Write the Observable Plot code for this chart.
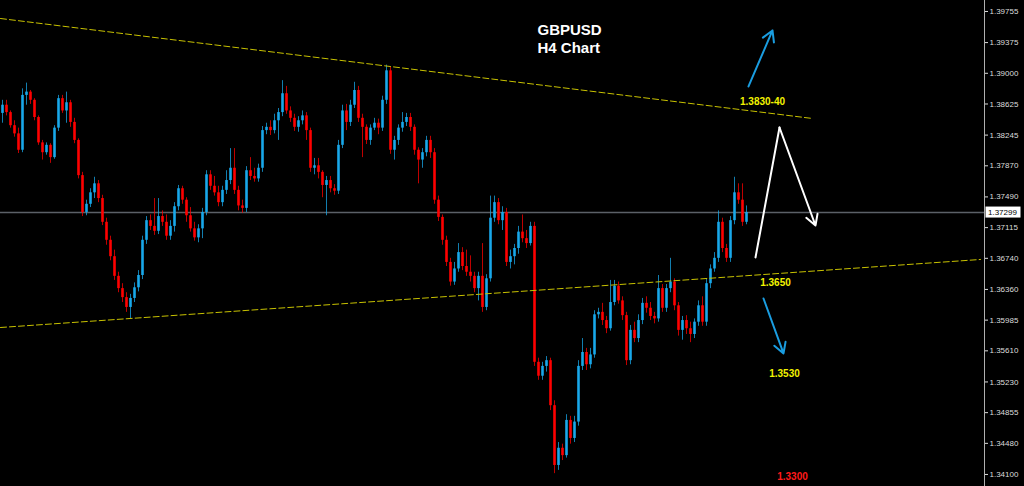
<!DOCTYPE html>
<html><head><meta charset="utf-8">
<script src="https://cdn.jsdelivr.net/npm/d3@7"></script>
<script src="https://cdn.jsdelivr.net/npm/@observablehq/plot@0.6"></script>
<style>
html,body{margin:0;padding:0;background:#000;overflow:hidden}
#chart{width:1024px;height:486px}
</style></head><body><div id="chart"></div>
<script>
// ---- data (GBPUSD H4 candles) ----
const firstOpen = 1.3851;
const closes = [1.3861,1.3852,1.3836,1.3826,1.3806,1.3873,1.3877,1.3867,1.3846,1.3815,
1.3803,1.3812,1.3797,1.3833,1.3869,1.3854,1.3864,1.3840,1.3818,1.3775,
1.3730,1.3740,1.3754,1.3765,1.3747,1.3718,1.3696,1.3676,1.3652,1.3637,
1.3626,1.3614,1.3625,1.3638,1.3653,1.3696,1.3720,1.3713,1.3707,1.3725,
1.3718,1.3701,1.3713,1.3737,1.3759,1.3745,1.3726,1.3710,1.3699,1.3710,
1.3730,1.3776,1.3762,1.3754,1.3742,1.3757,1.3769,1.3784,1.3757,1.3738,
1.3735,1.3781,1.3774,1.3771,1.3784,1.3830,1.3834,1.3830,1.3842,1.3852,
1.3875,1.3854,1.3845,1.3834,1.3842,1.3848,1.3830,1.3784,1.3787,1.3779,
1.3763,1.3769,1.3759,1.3756,1.3812,1.3854,1.3840,1.3861,1.3879,1.3845,
1.3834,1.3818,1.3833,1.3839,1.3833,1.3867,1.3903,1.3806,1.3818,1.3833,
1.3840,1.3846,1.3834,1.3806,1.3794,1.3803,1.3818,1.3803,1.3745,1.3724,
1.3696,1.3669,1.3645,1.3661,1.3681,1.3664,1.3657,1.3652,1.3637,1.3652,
1.3614,1.3649,1.3723,1.3742,1.3720,1.3730,1.3669,1.3676,1.3686,1.3706,
1.3698,1.3692,1.3713,1.3547,1.3530,1.3542,1.3549,1.3494,1.3421,1.3442,
1.3433,1.3476,1.3454,1.3474,1.3542,1.3559,1.3544,1.3556,1.3605,1.3608,
1.3598,1.3588,1.3620,1.3640,1.3622,1.3604,1.3549,1.3586,1.3576,1.3598,
1.3619,1.3613,1.3603,1.3600,1.3637,1.3613,1.3637,1.3645,1.3616,1.3586,
1.3598,1.3588,1.3581,1.3596,1.3616,1.3596,1.3643,1.3661,1.3674,1.3718,
1.3686,1.3674,1.3720,1.3754,1.3745,1.3718,1.37299];
const highs = [1.3867,1.3867,1.3854,1.3842,1.3833,1.3881,1.3888,1.3879,1.3869,1.3848,
1.3818,1.3815,1.3814,1.3836,1.3873,1.3873,1.3877,1.3867,1.3845,1.3820,
1.3779,1.3745,1.3759,1.3773,1.3769,1.3751,1.3723,1.3701,1.3684,1.3657,
1.3643,1.3632,1.3630,1.3644,1.3659,1.3701,1.3725,1.3727,1.3747,1.3747,
1.3732,1.3727,1.3720,1.3742,1.3763,1.3762,1.3748,1.3736,1.3718,1.3715,
1.3735,1.3781,1.3781,1.3774,1.3762,1.3762,1.3781,1.3808,1.3808,1.3762,
1.3745,1.3786,1.3797,1.3784,1.3789,1.3835,1.3839,1.3842,1.3850,1.3857,
1.3891,1.3884,1.3859,1.3850,1.3847,1.3854,1.3852,1.3833,1.3796,1.3796,
1.3781,1.3774,1.3774,1.3764,1.3818,1.3861,1.3862,1.3867,1.3889,1.3884,
1.3850,1.3837,1.3837,1.3845,1.3844,1.3872,1.3910,1.3907,1.3823,1.3837,
1.3852,1.3851,1.3851,1.3837,1.3809,1.3808,1.3823,1.3823,1.3808,1.3750,
1.3727,1.3701,1.3674,1.3669,1.3692,1.3687,1.3684,1.3677,1.3657,1.3657,
1.3692,1.3654,1.3750,1.3750,1.3747,1.3737,1.3735,1.3684,1.3691,1.3713,
1.3727,1.3708,1.3718,1.3718,1.3552,1.3547,1.3554,1.3552,1.3500,1.3449,
1.3447,1.3483,1.3481,1.3481,1.3549,1.3576,1.3564,1.3564,1.3610,1.3613,
1.3619,1.3603,1.3647,1.3647,1.3645,1.3627,1.3608,1.3592,1.3596,1.3605,
1.3625,1.3627,1.3620,1.3608,1.3653,1.3642,1.3642,1.3674,1.3649,1.3620,
1.3603,1.3604,1.3596,1.3600,1.3622,1.3627,1.3649,1.3666,1.3681,1.3732,
1.3723,1.3691,1.3725,1.3773,1.3765,1.3765,1.3738];
const lows = [1.3839,1.3848,1.3833,1.3822,1.3802,1.3803,1.3861,1.3862,1.3842,1.3812,
1.3794,1.3800,1.3790,1.3795,1.3829,1.3851,1.3839,1.3834,1.3814,1.3771,
1.3725,1.3726,1.3736,1.3747,1.3742,1.3714,1.3690,1.3671,1.3647,1.3632,
1.3620,1.3608,1.3600,1.3620,1.3633,1.3648,1.3691,1.3708,1.3702,1.3703,
1.3713,1.3696,1.3696,1.3706,1.3732,1.3740,1.3718,1.3706,1.3695,1.3693,
1.3698,1.3726,1.3757,1.3750,1.3737,1.3737,1.3752,1.3764,1.3752,1.3732,
1.3729,1.3730,1.3769,1.3767,1.3767,1.3779,1.3825,1.3824,1.3826,1.3818,
1.3847,1.3850,1.3840,1.3829,1.3828,1.3837,1.3818,1.3779,1.3776,1.3771,
1.3748,1.3726,1.3754,1.3751,1.3752,1.3808,1.3830,1.3835,1.3857,1.3840,
1.3797,1.3813,1.3812,1.3830,1.3825,1.3829,1.3862,1.3801,1.3794,1.3812,
1.3828,1.3835,1.3829,1.3800,1.3765,1.3784,1.3798,1.3796,1.3740,1.3719,
1.3690,1.3664,1.3640,1.3641,1.3657,1.3659,1.3652,1.3645,1.3632,1.3622,
1.3608,1.3610,1.3645,1.3718,1.3715,1.3708,1.3664,1.3661,1.3666,1.3679,
1.3693,1.3686,1.3689,1.3542,1.3525,1.3525,1.3535,1.3488,1.3411,1.3415,
1.3427,1.3430,1.3447,1.3449,1.3469,1.3537,1.3537,1.3539,1.3552,1.3600,
1.3592,1.3582,1.3585,1.3616,1.3618,1.3598,1.3543,1.3544,1.3571,1.3571,
1.3593,1.3607,1.3598,1.3594,1.3596,1.3608,1.3608,1.3632,1.3610,1.3579,
1.3574,1.3581,1.3571,1.3576,1.3591,1.3591,1.3591,1.3637,1.3657,1.3669,
1.3681,1.3669,1.3669,1.3715,1.3740,1.3713,1.3715];

const yTicks = [1.39755,1.39375,1.39000,1.38625,1.38245,1.37870,1.37490,1.37115,
1.36740,1.36360,1.35985,1.35610,1.35230,1.34855,1.34480,1.34100];
const yDomain = [1.33953, 1.39889];
const xDomain = [-0.5, 245.5];
const currentPrice = 1.37299;

const trendUpper = [{i:-0.5,p:1.39669},{i:202.5,p:1.38448}];
const trendLower = [{i:-0.5,p:1.35895},{i:244.5,p:1.36726}];
const titleLines = [{i:133.75,p:1.39523,t:"GBPUSD"},{i:133.75,p:1.39303,t:"H4 Chart"}];
const levelLabels = [
  {i:190,p:1.38655,t:"1.3830-40",c:"#f2f200"},
  {i:193.25,p:1.36445,t:"1.3650",c:"#f2f200"},
  {i:195.5,p:1.35333,t:"1.3530",c:"#f2f200"},
  {i:197.5,p:1.34075,t:"1.3300",c:"#ff1a1a"}
];
const blueArrows = [
  {x1:186.5,y1:1.38839,x2:192.5,y2:1.39523},
  {x1:190.25,y1:1.36249,x2:195.25,y2:1.35578}
];
const whitePath = [{i:188.25,p:1.36750},{i:194.25,p:1.38338},{i:203.25,p:1.37141}];

// ---- build ----
const BULL = "#18a8ea", BEAR = "#ff0000";
const candles = closes.map((c,i) => {
  const open = i ? closes[i-1] : firstOpen;
  return {i, open, close:c,
    high: Math.max(highs[i], open, c),
    low: Math.min(lows[i], open, c),
    col: c >= open ? BULL : BEAR};
});

const font = "'Liberation Sans', Arial, sans-serif";
const plot = Plot.plot({
  width: 1024, height: 486,
  marginTop: 0, marginBottom: 0, marginLeft: 0, marginRight: 40,
  style: {background:"#000", color:"#dcdcdc", fontFamily: font, fontSize:"8px"},
  x: {domain: xDomain, axis: null},
  y: {domain: yDomain, axis: "right", ticks: yTicks, tickFormat: d => d.toFixed(5),
      tickSize: 3, tickPadding: 2, label: null},
  marks: [
    Plot.ruleY([currentPrice], {stroke:"#5b6067", strokeWidth:1.6}),
    Plot.ruleX(candles, {x:"i", y1:"low", y2:"high", stroke: d => d.col, strokeWidth:1, strokeOpacity:0.75}),
    Plot.ruleX(candles, {x:"i", y1:"open", y2:"close", stroke: d => d.col, strokeWidth:2.6}),
    Plot.line(trendUpper, {x:"i", y:"p", stroke:"#c8c200", strokeWidth:1, strokeDasharray:"6,3"}),
    Plot.line(trendLower, {x:"i", y:"p", stroke:"#c8c200", strokeWidth:1, strokeDasharray:"6,3"}),
    Plot.ruleX([xDomain[1]], {stroke:"#b0b0b0", strokeWidth:1}),
    Plot.arrow(blueArrows, {x1:"x1", y1:"y1", x2:"x2", y2:"y2", stroke:"#1a9de0", strokeWidth:2, headLength:9}),
    Plot.line(whitePath.slice(0,2), {x:"i", y:"p", stroke:"#ffffff", strokeWidth:2}),
    Plot.arrow([{a:whitePath[1], b:whitePath[2]}], {x1:d=>d.a.i, y1:d=>d.a.p, x2:d=>d.b.i, y2:d=>d.b.p, stroke:"#ffffff", strokeWidth:2, headLength:9}),
    Plot.text(titleLines, {x:"i", y:"p", text:"t", textAnchor:"start", fill:"#ffffff", fontWeight:"bold", fontSize:15, fontFamily:font}),
    Plot.text(levelLabels, {x:"i", y:"p", text:"t", fill: d => d.c, fontWeight:"bold", fontSize:10, fontFamily:font})
  ]
});

// current price tag on the axis
const ys = plot.scale("y"), xs = plot.scale("x");
const yp = ys.apply(currentPrice), xp = xs.apply(xDomain[1]);
const g = d3.select(plot).append("g");
g.append("rect").attr("x", xp + 1.5).attr("y", yp - 5.5).attr("width", 35).attr("height", 11)
  .attr("fill", "#ffffff");
g.append("text").attr("x", xp + 4).attr("y", yp).attr("dy", "0.35em")
  .attr("text-anchor", "start")
  .attr("fill", "#000").attr("font-size", 8).attr("font-family", font).text(currentPrice.toFixed(5));

document.getElementById("chart").appendChild(plot);
</script></body></html>
